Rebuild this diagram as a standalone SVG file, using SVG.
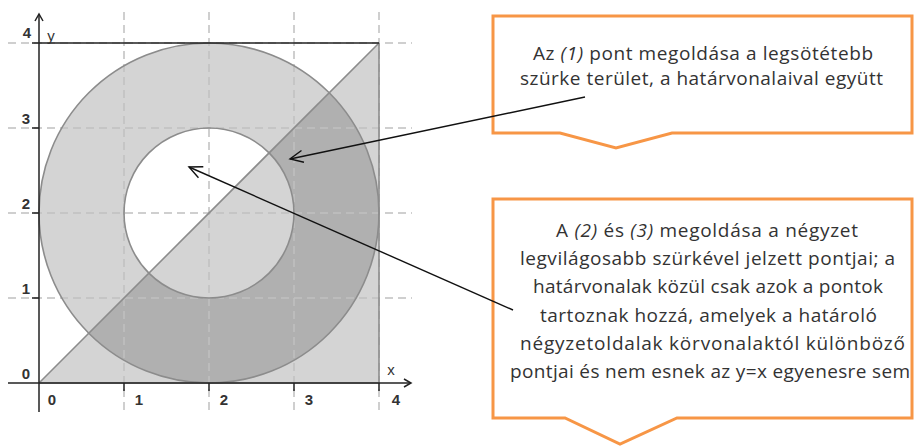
<svg xmlns="http://www.w3.org/2000/svg" width="914" height="446" viewBox="0 0 914 446">
<style>
.grid{stroke:#c0c0c0;stroke-width:1.5;stroke-dasharray:8 5;fill:none}
.edge{stroke:#8c8c8c;stroke-width:1.6;fill:none}
.axis{stroke:#222;stroke-width:1.5;fill:none}
.tick{font-family:"Liberation Sans",Arial,sans-serif;font-size:15px;font-weight:bold;fill:#333;text-anchor:middle}
.lab{font-weight:normal}
.call{fill:#fff;stroke:#f79646;stroke-width:3;stroke-linejoin:miter}
.ct{font-family:"Open Sans","Noto Sans",sans-serif;font-size:19px;fill:#333}
.it{font-style:italic}
.conn{stroke:#111;stroke-width:1.4;fill:none}
</style>
<defs>
<marker id="arr" markerUnits="userSpaceOnUse" markerWidth="16" markerHeight="14" refX="14" refY="6.5" orient="auto" overflow="visible">
<path d="M1,0.5 L14,6.5 L1,12.5" fill="none" stroke="#111" stroke-width="1.4"/>
</marker>
</defs>
<rect width="914" height="446" fill="#fff"/>
<g id="plot">
<path d="M39,213 a170,170 0 1,0 340,0 a170,170 0 1,0 -340,0 Z M124,213 a85,85 0 1,0 170,0 a85,85 0 1,0 -170,0 Z" fill="#000" fill-opacity="0.17" fill-rule="evenodd"/>
<path d="M39,383 L379,383 L379,43 Z" fill="#000" fill-opacity="0.17"/>
</g>
<g id="grid">
<line class="grid" x1="124" y1="12" x2="124" y2="412"/>
<line class="grid" x1="209" y1="12" x2="209" y2="412"/>
<line class="grid" x1="294" y1="12" x2="294" y2="412"/>
<line class="grid" x1="379" y1="12" x2="379" y2="412"/>
<line class="grid" x1="8" y1="43" x2="412" y2="43"/>
<line class="grid" x1="8" y1="128" x2="412" y2="128"/>
<line class="grid" x1="8" y1="213" x2="412" y2="213"/>
<line class="grid" x1="8" y1="298" x2="412" y2="298"/>
</g>
<g id="boundaries">
<circle class="edge" cx="209" cy="213" r="170"/>
<circle class="edge" cx="209" cy="213" r="85"/>
<line class="edge" x1="39" y1="383" x2="379" y2="43"/>
<line class="edge" x1="379" y1="43" x2="379" y2="383" stroke-width="2"/>
<line class="edge" x1="39" y1="383" x2="379" y2="383"/>
</g>
<g id="axes">
<line class="axis" x1="39" y1="43" x2="379" y2="43"/>
<line class="axis" x1="39" y1="14" x2="39" y2="412"/>
<path class="axis" d="M35,21 L39,14 L43,21"/>
<line class="axis" x1="8" y1="383" x2="411" y2="383"/>
<path class="axis" d="M404,379 L411,383 L404,387"/>
<path class="axis" d="M124,383 V391 M209,383 V391 M294,383 V391 M379,383 V391 M32,43 H39 M32,128 H39 M32,213 H39 M32,298 H39"/>
<text class="tick" x="27" y="38">4</text>
<text class="tick" x="26" y="124">3</text>
<text class="tick" x="26" y="209">2</text>
<text class="tick" x="26" y="294">1</text>
<text class="tick" x="26" y="379">0</text>
<text class="tick" x="52" y="405">0</text>
<text class="tick" x="139" y="405">1</text>
<text class="tick" x="224" y="405">2</text>
<text class="tick" x="309" y="405">3</text>
<text class="tick" x="396" y="405">4</text>
<text class="tick lab" x="391" y="375">x</text>
<text class="tick lab" x="51" y="41">y</text>
</g>
<g id="callout1">
<path class="call" d="M493,16 H912 V133 H672 L616,148 L560,133 H493 Z"/>
<text class="ct" x="533" y="60" textLength="340" lengthAdjust="spacing">Az <tspan class="it">(1)</tspan> pont megoldása a legsötétebb</text>
<text class="ct" x="520" y="85" textLength="363" lengthAdjust="spacing">szürke terület, a határvonalaival együtt</text>
</g>
<g id="callout2">
<path class="call" d="M493,199 H912 V418 H677 L620,444 L565,418 H493 Z"/>
<text class="ct" x="556" y="237" textLength="302" lengthAdjust="spacing">A <tspan class="it">(2)</tspan> és <tspan class="it">(3)</tspan> megoldása a négyzet</text>
<text class="ct" x="520" y="265" textLength="375" lengthAdjust="spacing">legvilágosabb szürkével jelzett pontjai; a</text>
<text class="ct" x="533" y="293" textLength="350" lengthAdjust="spacing">határvonalak közül csak azok a pontok</text>
<text class="ct" x="540" y="322" textLength="337" lengthAdjust="spacing">tartoznak hozzá, amelyek a határoló</text>
<text class="ct" x="520" y="350" textLength="385" lengthAdjust="spacing">négyzetoldalak körvonalaktól különböző</text>
<text class="ct" x="510" y="378" textLength="400" lengthAdjust="spacing">pontjai és nem esnek az y=x egyenesre sem</text>
</g>
<g id="connectors">
<line class="conn" x1="585" y1="97" x2="290" y2="159" marker-end="url(#arr)"/>
<line class="conn" x1="513" y1="310" x2="189" y2="167" marker-end="url(#arr)"/>
</g>
</svg>
